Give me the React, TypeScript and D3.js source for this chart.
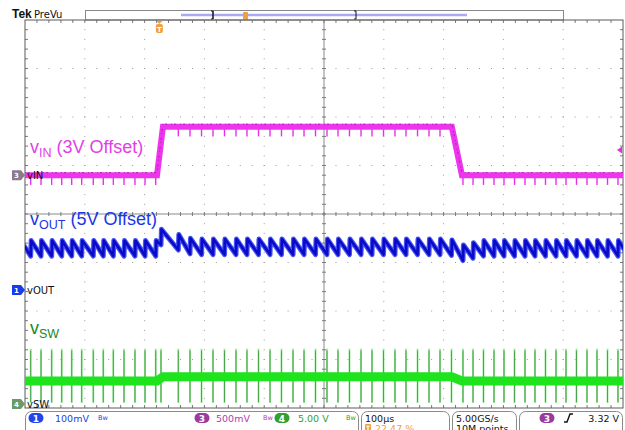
import React from 'react';
import * as d3 from 'd3';

// ---------- layout (pixels) ----------
const W = 625, H = 430;
const plotLeft = 25, plotRight = 623, plotTop = 20, plotBottom = 408;
const nDivX = 10, nDivY = 8, nMinor = 5;

// ---------- scope settings ----------
const timeDomain = [-224.7, 775.3]; // µs, 100 µs/div, trigger at 22.47 %
const channelNames = ['vIN', 'vOUT', 'vSW'];
const channelNumbers = ['3', '1', '4'];
const channelOffsets = [3.0, 5.0, 0];      // V
const channelVPerDiv = [0.5, 0.1, 5.0];    // V/div
const channelPositions = [0.8, -1.567, -3.918]; // div
const triggerLevel = 3.26; // V (ch3)

// ---------- measured data ----------
// switching events (µs)
const switchTimes = [
  -215.2, -197.9, -180.1, -163.3, -146.6, -129.9, -110.5, -93.8, -77.0, -59.1, -40.8, -24.0, -6.1, 2.7,
  31.7, 51.2, 70.5, 89.7, 108.9, 128.1, 146.5, 165.8, 185.0, 204.2, 223.5, 241.9, 261.1, 280.3, 298.7,
  317.9, 337.2, 355.6, 374.8, 394.0, 412.4, 431.7, 450.9, 469.3, 488.5,
  507.7, 524.5, 542.0, 559.6, 576.3, 593.9, 611.4, 628.1, 645.7, 663.3, 680.0, 697.5, 715.1, 731.8, 749.4, 766.9,
];
// vIN envelope (V)
const vinT = [-224.7, -4, 6, 489, 506, 775.3];
const vinV = [3.0, 3.0, 3.5, 3.5, 3.0, 3.0];
const vinSpike = 0.1;
// vOUT mean (V) and ripple peak-peak
const voutT = [-224.7, -5, 3, 55, 486, 505, 540, 775.3];
const voutV = [5.086, 5.086, 5.110, 5.089, 5.089, 5.076, 5.086, 5.086];
const voutRipple = 0.032;
// vSW band (V) and spikes
const vswT = [-224.7, -4, 6, 489, 506, 775.3];
const vswV = [2.37, 2.37, 2.8, 2.8, 2.37, 2.37];
const vswSpikeHigh = 5.7, vswSpikeLow = 0.1;

// status bar
const ch1Scale = '100mV', ch3Scale = '500mV', ch4Scale = '5.00 V';
const timeScale = '100µs', trigPos = '22.47 %', sampleRate = '5.00GS/s', recordLen = '10M points', trigText = '3.32 V';

const FONT = 'DejaVu Sans, sans-serif';
const LFONT = 'Liberation Sans, Arial, sans-serif';

export default function App() {
  const x = d3.scaleLinear().domain(timeDomain).range([plotLeft, plotRight]);
  const divW = (plotRight - plotLeft) / nDivX;
  const divH = (plotBottom - plotTop) / nDivY;
  const yC = (plotTop + plotBottom) / 2;
  const xC = (plotLeft + plotRight) / 2;
  const chScale = (i: number) =>
    d3.scaleLinear()
      .domain([
        channelOffsets[i] - (nDivY / 2 + channelPositions[i]) * channelVPerDiv[i],
        channelOffsets[i] + (nDivY / 2 - channelPositions[i]) * channelVPerDiv[i],
      ])
      .range([plotBottom, plotTop]);
  const yIn = chScale(0), yOut = chScale(1), ySw = chScale(2);
  const markerY = [0, 1, 2].map(i => chScale(i)(channelOffsets[i]));

  const vin = d3.scaleLinear().domain(vinT).range(vinV).clamp(true);
  const vout = d3.scaleLinear().domain(voutT).range(voutV).clamp(true);

  const line = d3.line<[number, number]>();

  const vinPts: [number, number][] = vinT.map((t, i) => [x(t), yIn(vinV[i])]);
  const vinPath = line(vinPts)!;
  const vswPts: [number, number][] = vswT.map((t, i) => [x(t), ySw(vswV[i])]);
  const vswPath = line(vswPts)!;
  const n = switchTimes.length;
  const ts = [switchTimes[0] - (switchTimes[1] - switchTimes[0]), ...switchTimes,
    switchTimes[n - 1] + (switchTimes[n - 1] - switchTimes[n - 2])];
  const outPts: [number, number][] = [];
  ts.forEach((t, k) => {
    if (k > 0) outPts.push([x(t), yOut(vout(t) - voutRipple / 2)]);
    outPts.push([x(t + 0.8), yOut(vout(t) + voutRipple / 2)]);
  });
  const outPath = line(outPts)!;

  const dots: JSX.Element[] = [];
  for (let i = 1; i < nDivX; i++) {
    if (i === nDivX / 2) continue;
    const gx = plotLeft + i * divW;
    for (let j = 1; j < nDivY * nMinor; j++) {
      dots.push(<rect key={`v${i}-${j}`} x={gx - 0.5} y={plotTop + j * divH / nMinor - 0.5} width={1} height={1} fill="#9a9a9a" />);
    }
  }
  for (let j = 1; j < nDivY; j++) {
    if (j === nDivY / 2) continue;
    const gy = plotTop + j * divH;
    for (let i = 1; i < nDivX * nMinor; i++) {
      dots.push(<rect key={`h${j}-${i}`} x={plotLeft + i * divW / nMinor - 0.5} y={gy - 0.5} width={1} height={1} fill="#9a9a9a" />);
    }
  }
  const ticks: JSX.Element[] = [];
  for (let i = 1; i < nDivX * nMinor; i++) {
    const tx = plotLeft + i * divW / nMinor;
    ticks.push(<line key={`tt${i}`} x1={tx} x2={tx} y1={plotTop} y2={plotTop + 3} />);
    ticks.push(<line key={`tb${i}`} x1={tx} x2={tx} y1={plotBottom} y2={plotBottom - 3} />);
    ticks.push(<line key={`tc${i}`} x1={tx} x2={tx} y1={yC - 2} y2={yC + 2} />);
  }
  for (let j = 1; j < nDivY * nMinor; j++) {
    const ty = plotTop + j * divH / nMinor;
    ticks.push(<line key={`tl${j}`} x1={plotLeft} x2={plotLeft + 3} y1={ty} y2={ty} />);
    ticks.push(<line key={`tr${j}`} x1={plotRight} x2={plotRight - 3} y1={ty} y2={ty} />);
    ticks.push(<line key={`tm${j}`} x1={xC - 2} x2={xC + 2} y1={ty} y2={ty} />);
  }

  const chMarker = (y: number, fill: string, num: string, label: string, key: string) => (
    <g key={key}>
      <path d={`M12,${y - 5} h9 l4,5 l-4,5 h-9 z`} fill={fill} />
      <text x={16.5} y={y + 3} fontSize={7} fill="#fff" textAnchor="middle" fontFamily={FONT} fontWeight="bold">{num}</text>
      <text x={27} y={y + 4} fontSize={10} fill="#111" fontFamily={FONT}>{label}</text>
    </g>
  );

  const badge = (cx: number, fill: string, num: string) => (
    <g>
      <rect x={cx - 7.5} y={413} width={15} height={10} rx={5} fill={fill} />
      <text x={cx} y={421.5} fontSize={9} fill="#fff" textAnchor="middle" fontFamily={FONT} fontWeight="bold">{num}</text>
    </g>
  );
  const bw = (bx: number, color: string) => (
    <text x={bx} y={420} fontSize={6.5} fill={color} fontFamily={FONT}>Bw</text>
  );

  const trigX = x(0);

  return (
    <svg width={W} height={H} style={{ position: 'absolute', left: 0, top: 0, background: '#fff' }}>
      <defs>
        <clipPath id="plotClip">
          <rect x={plotLeft} y={plotTop} width={plotRight - plotLeft} height={plotBottom - plotTop} />
        </clipPath>
      </defs>
      <rect x={0} y={0} width={W} height={H} fill="#fff" />

      <text x={12} y={18} fontSize={12} fontWeight="bold" fontFamily={LFONT} fill="#111">Tek</text>
      <text x={34} y={18} fontSize={10} fontFamily={FONT} fill="#111">PreVu</text>
      <rect x={85.5} y={10.5} width={478} height={9.5} fill="#fff" stroke="#888" />
      <line x1={181} x2={467} y1={15} y2={15} stroke="#a8aaf2" strokeWidth={2.5} />
      <path d="M211,11 h2 v8 h-2 M213,11 v8" stroke="#111" strokeWidth={1} fill="none" />
      <path d="M356,11 v8 M354,11 h2 M354,19 h2" stroke="#111" strokeWidth={1} fill="none" />
      <rect x={243} y={12} width={5} height={8} rx={1} fill="#f0a040" />

      <g>{dots}</g>
      <line x1={plotLeft} x2={plotRight} y1={yC} y2={yC} stroke="#8a8a8a" />
      <line x1={xC} x2={xC} y1={plotTop} y2={plotBottom} stroke="#8a8a8a" />
      <g stroke="#7a7a7a" strokeWidth={1}>{ticks}</g>
      <rect x={plotLeft} y={plotTop} width={plotRight - plotLeft} height={plotBottom - plotTop} fill="none" stroke="#5a5a5a" />

      <g clipPath="url(#plotClip)">
        <g>
          {switchTimes.map((t, i) => (
            <line key={`sl${i}`} x1={x(t)} x2={x(t)} y1={ySw(vswSpikeHigh)} y2={ySw(vswSpikeLow)} stroke="#8ce88c" strokeWidth={1.8} />
          ))}
          {switchTimes.map((t, i) => (
            <line key={`sd${i}`} x1={x(t)} x2={x(t)} y1={ySw(vswSpikeHigh) + 2} y2={ySw(vswSpikeLow) - 1} stroke="#3a923a" strokeWidth={0.8} />
          ))}
          <path d={vswPath} fill="none" stroke="#1ee41e" strokeWidth={9} />
          <path d={vswPath} fill="none" stroke="#48c848" strokeWidth={1} strokeDasharray="1 3" transform="translate(0,-3.5)" />
        </g>
        <g>
          <path d={outPath} fill="none" stroke="#4656f2" strokeWidth={5} strokeLinejoin="round" />
          <path d={outPath} fill="none" stroke="#0a0ac8" strokeWidth={2.6} strokeLinejoin="round" />
        </g>
        <g>
          {switchTimes.map((t, i) => (
            <line key={`vl${i}`} x1={x(t)} x2={x(t)} y1={yIn(vin(t))} y2={yIn(vin(t) - vinSpike)} stroke="#e830e8" strokeWidth={1.4} />
          ))}
          <path d={vinPath} fill="none" stroke="#ee34ee" strokeWidth={6} />
          <path d={vinPath} fill="none" stroke="#8a1a80" strokeWidth={1} strokeDasharray="1 2 2 4" transform="translate(0,-2.6)" opacity={0.7} />
        </g>
      </g>

      <path d={`M${trigX - 3},21 h6 l-3,3 z`} fill="#f0a040" />
      <rect x={trigX - 3.5} y={24} width={7} height={9} rx={2} fill="#f0a040" />
      <text x={trigX} y={31.5} fontSize={7} fill="#fff" textAnchor="middle" fontFamily={FONT} fontWeight="bold">T</text>
      <path d={`M617,${yIn(triggerLevel)} l5,-3.5 v7 z`} fill="#e030e0" />

      <text x={30} y={153} fontSize={18} fontFamily={LFONT} fill="#e23ee8">v<tspan fontSize={12.5} dy={4}>IN</tspan><tspan dy={-4}> (3V Offset)</tspan></text>
      <text x={30} y={225} fontSize={18} fontFamily={LFONT} fill="#1a36e8">v<tspan fontSize={12.5} dy={4}>OUT</tspan><tspan dy={-4}> (5V Offset)</tspan></text>
      <text x={30} y={334} fontSize={18} fontFamily={LFONT} fill="#1a8a1a">v<tspan fontSize={12.5} dy={4}>SW</tspan></text>

      {chMarker(markerY[0], '#8a7a8e', channelNumbers[0], channelNames[0], 'm3')}
      {chMarker(markerY[1], '#1a3aee', channelNumbers[1], channelNames[1], 'm1')}
      {chMarker(markerY[2], '#6a9a6a', channelNumbers[2], channelNames[2], 'm4')}

      <rect x={25.5} y={411.5} width={333} height={30} rx={6} fill="#fff" stroke="#8a8a8a" />
      <rect x={361.5} y={411.5} width={88} height={30} rx={6} fill="#fff" stroke="#8a8a8a" />
      <rect x={452.5} y={411.5} width={64} height={30} rx={6} fill="#fff" stroke="#8a8a8a" />
      <rect x={519.5} y={411.5} width={103} height={30} rx={6} fill="#fff" stroke="#8a8a8a" />

      {badge(36, '#2244ee', channelNumbers[1])}
      <text x={55} y={421.5} fontSize={9.5} fill="#2244dd" fontFamily={FONT}>{ch1Scale}</text>
      {bw(98, '#2244dd')}
      {badge(202, '#9a3a9a', channelNumbers[0])}
      <text x={216} y={421.5} fontSize={9.5} fill="#b040b0" fontFamily={FONT}>{ch3Scale}</text>
      {bw(263, '#b040b0')}
      {badge(282, '#30a030', channelNumbers[2])}
      <text x={298} y={421.5} fontSize={9.5} fill="#30a030" fontFamily={FONT}>{ch4Scale}</text>
      {bw(346, '#30a030')}

      <text x={365} y={421.5} fontSize={9.5} fill="#111" fontFamily={FONT}>{timeScale}</text>
      <rect x={365} y={424} width={6} height={7} rx={1} fill="#f0a040" />
      <text x={368} y={430} fontSize={6} fill="#fff" textAnchor="middle" fontFamily={FONT} fontWeight="bold">T</text>
      <text x={375} y={432} fontSize={9.5} fill="#f0a040" fontFamily={FONT}>{trigPos}</text>

      <text x={456} y={421.5} fontSize={9.5} fill="#111" fontFamily={FONT}>{sampleRate}</text>
      <text x={456} y={432} fontSize={9.5} fill="#111" fontFamily={FONT}>{recordLen}</text>

      {badge(547, '#9a3a9a', channelNumbers[0])}
      <path d="M564,422 h3 l3,-8 h3" fill="none" stroke="#111" strokeWidth={1.4} />
      <text x={619} y={421.5} fontSize={9.5} fill="#111" textAnchor="end" fontFamily={FONT}>{trigText}</text>
    </svg>
  );
}
